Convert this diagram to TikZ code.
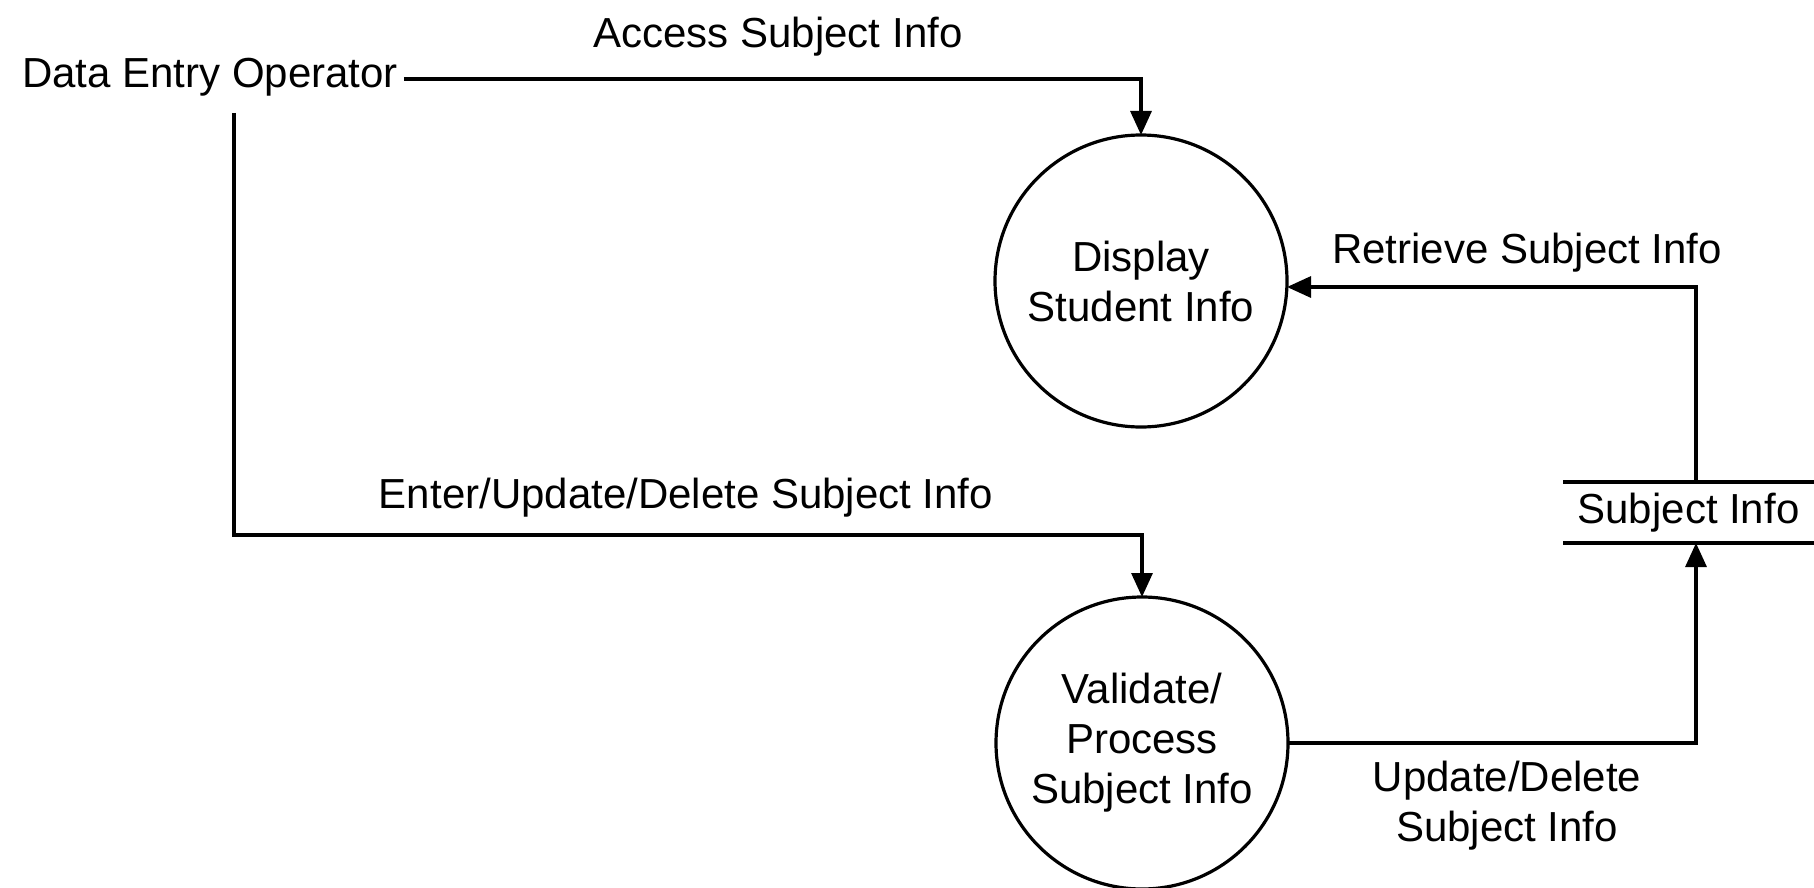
\documentclass[tikz,border=0pt]{standalone}
\usepackage{fontspec}
\setmainfont{Liberation Sans}
\usetikzlibrary{arrows.meta}
\begin{document}
\begin{tikzpicture}[x=1pt,y=-1pt,
  every node/.style={font=\fontsize{42}{50}\selectfont, inner sep=0pt, outer sep=0pt},
  flow/.style={line width=3.2pt, -{Triangle[length=24pt,width=21pt]}},
  plain/.style={line width=3.2pt},
  proc/.style={circle, draw, line width=3.2pt, minimum size=292pt, align=center},
  lbl/.style={align=center}]
\useasboundingbox (0,0) rectangle (1814,888);
% external entity
\node[anchor=base] (deo) at (210,88) {Data Entry Operator};
% processes
\node[proc] (p1) at (1141,281) {Display\\Student Info};
\node[proc] (p2) at (1142,743) {Validate/\\Process\\Subject Info};
% data store
\node[minimum width=251pt, minimum height=61pt] (store) at (1688.5,512.5) {Subject Info};
\draw[plain] (store.north west) -- (store.north east);
\draw[plain] (store.south west) -- (store.south east);
% coordinates
\coordinate (d1) at (234,113);
% flows
\draw[flow] ([xshift=6pt,yshift=9pt]deo.base east) -| (p1.north);
\draw[flow] (d1) |- ([yshift=62pt]p2.north) -- (p2.north);
\draw[flow] ([xshift=7.5pt]store.north) |- ([yshift=-6pt]p1.east);
\draw[flow] (p2.east) -| ([xshift=7.5pt]store.south);
% labels
\node[lbl] (l1) at (778,37) {Access Subject Info};
\node[lbl] (l2) at (1527,253) {Retrieve Subject Info};
\node[lbl] (l3) at (686,498) {Enter/Update/Delete Subject Info};
\node[lbl] (l4) at (1507,806) {Update/Delete\\Subject Info};
\end{tikzpicture}
\end{document}
